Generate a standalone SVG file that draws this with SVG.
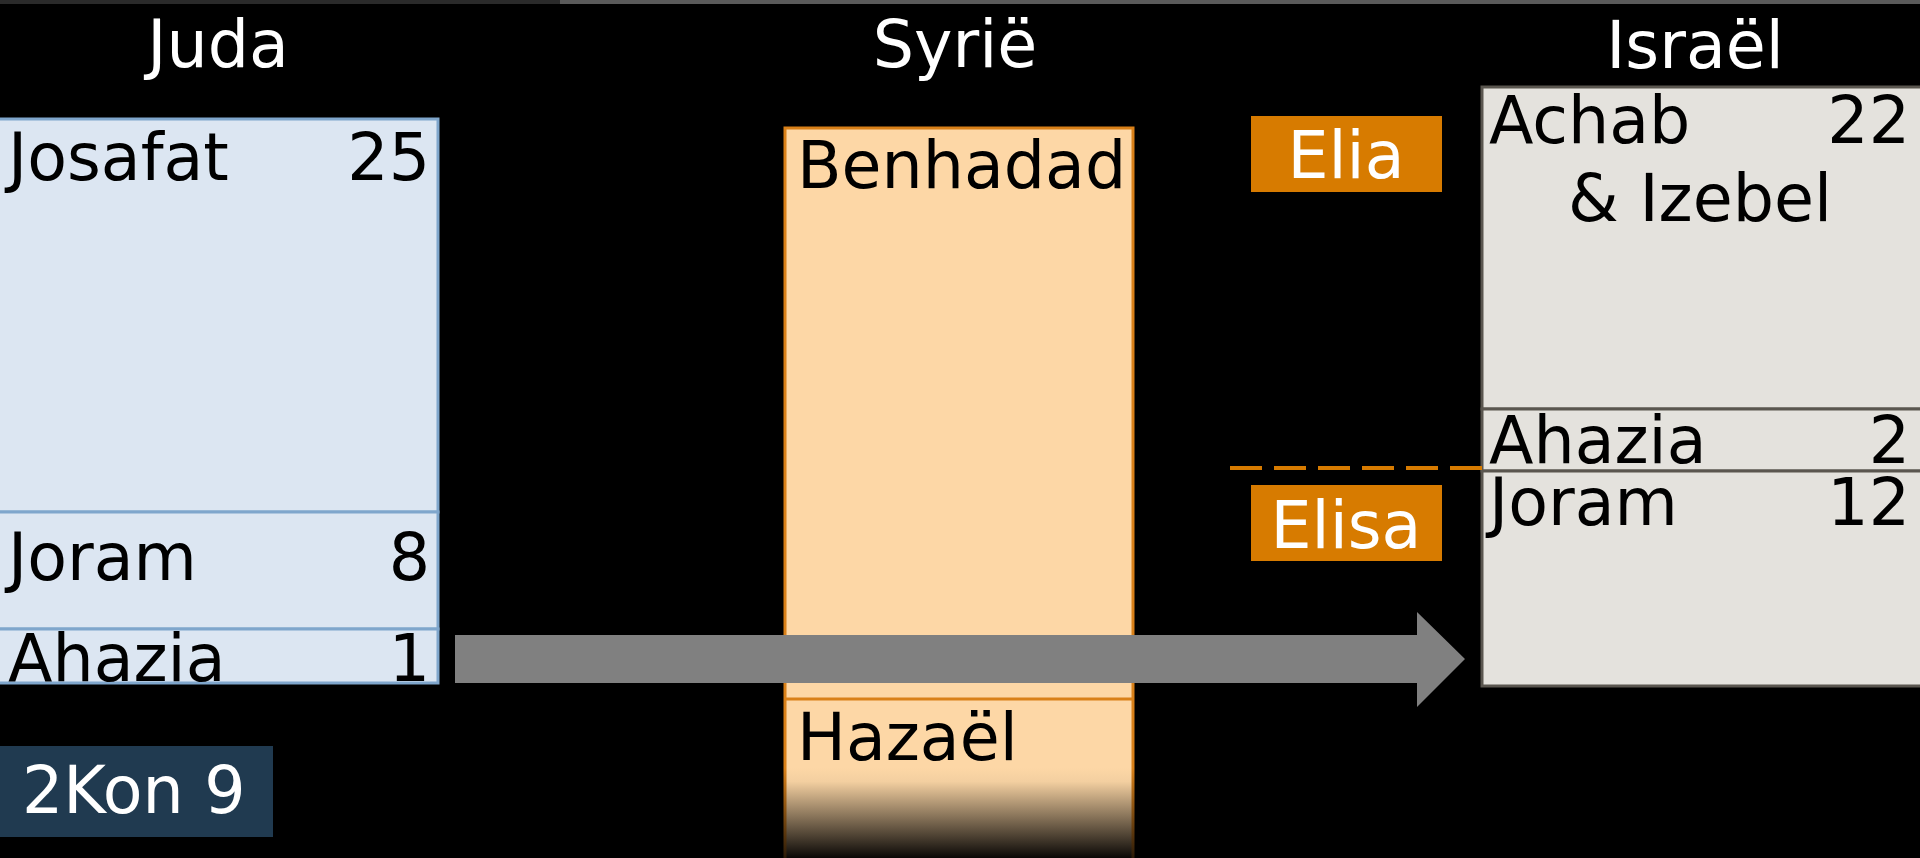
<svg xmlns="http://www.w3.org/2000/svg" width="1920" height="858" viewBox="0 0 1920 858">
<style>
text{font-family:"DejaVu Sans","Verdana",sans-serif;font-size:65px}
.w{fill:#ffffff}
.k{fill:#000000}
.r{text-anchor:end}
.m{text-anchor:middle}
.juda{fill:#dce6f2;stroke:#7fa6cc;stroke-width:3}
.isr{fill:#e4e2dd;stroke:#5a564f;stroke-width:3}
.tag{fill:#d77b00}
</style>
<defs>
<linearGradient id="syrFill" gradientUnits="userSpaceOnUse" x1="0" y1="768" x2="0" y2="858">
<stop offset="0" stop-color="#fdd7a6"/>
<stop offset="0.15" stop-color="#f3cfa0"/>
<stop offset="1" stop-color="#0a0806"/>
</linearGradient>
<linearGradient id="syrStroke" gradientUnits="userSpaceOnUse" x1="0" y1="768" x2="0" y2="858">
<stop offset="0" stop-color="#d98018"/>
<stop offset="1" stop-color="#2a1a08"/>
</linearGradient>
<clipPath id="judaClip"><rect x="0" y="119" width="438" height="564"/></clipPath>
</defs>
<rect x="0" y="0" width="1920" height="858" fill="#000000"/>
<rect x="0" y="0" width="560" height="4" fill="#2a2a2a"/>
<rect x="560" y="0" width="1360" height="4" fill="#5a5a5a"/>

<g id="titles">
<text class="w m" x="218" y="67">Juda</text>
<text class="w m" x="955" y="67">Syrië</text>
<text class="w m" x="1695" y="68">Israël</text>
</g>

<g id="juda">
<rect class="juda" x="-2" y="119" width="440" height="393"/>
<rect class="juda" x="-2" y="512" width="440" height="117"/>
<rect class="juda" x="-2" y="629" width="440" height="54"/>
<g clip-path="url(#judaClip)">
<text class="k" x="8" y="180">Josafat</text>
<text class="k r" x="430" y="180">25</text>
<text class="k" x="8" y="580">Joram</text>
<text class="k r" x="430" y="580">8</text>
<text class="k" x="8" y="681">Ahazia</text>
<text class="k r" x="430" y="681">1</text>
</g>
</g>

<g id="syrie">
<rect x="785" y="128" width="348" height="740" fill="url(#syrFill)" stroke="url(#syrStroke)" stroke-width="3"/>
<line x1="785" y1="699" x2="1133" y2="699" stroke="#d98018" stroke-width="3"/>
<text class="k" x="797" y="188">Benhadad</text>
<text class="k" x="797" y="760">Hazaël</text>
</g>

<g id="israel">
<rect class="isr" x="1482" y="87" width="440" height="322"/>
<rect class="isr" x="1482" y="409" width="440" height="62"/>
<rect class="isr" x="1482" y="471" width="440" height="215"/>
<text class="k" x="1489" y="143">Achab</text>
<text class="k r" x="1910" y="143">22</text>
<text class="k m" x="1700" y="221">&amp; Izebel</text>
<text class="k" x="1489" y="463">Ahazia</text>
<text class="k r" x="1910" y="463">2</text>
<text class="k" x="1489" y="525">Joram</text>
<text class="k r" x="1910" y="525">12</text>
</g>

<g id="elia">
<rect class="tag" x="1251" y="116" width="191" height="76"/>
<text class="w m" x="1346" y="178">Elia</text>
</g>
<g id="elisa">
<rect class="tag" x="1251" y="485" width="191" height="76"/>
<text class="w m" x="1346" y="548">Elisa</text>
</g>

<g id="ref">
<rect x="0" y="746" width="273" height="91" fill="#203a50"/>
<text class="w" x="22" y="813">2Kon 9</text>
</g>

<g id="connectors">
<line x1="1230" y1="468" x2="1482" y2="468" stroke="#d77b00" stroke-width="4" stroke-dasharray="32,12"/>
<polygon points="455,635 1417,635 1417,612 1465,659 1417,707 1417,683 455,683" fill="#808080"/>
</g>
</svg>
